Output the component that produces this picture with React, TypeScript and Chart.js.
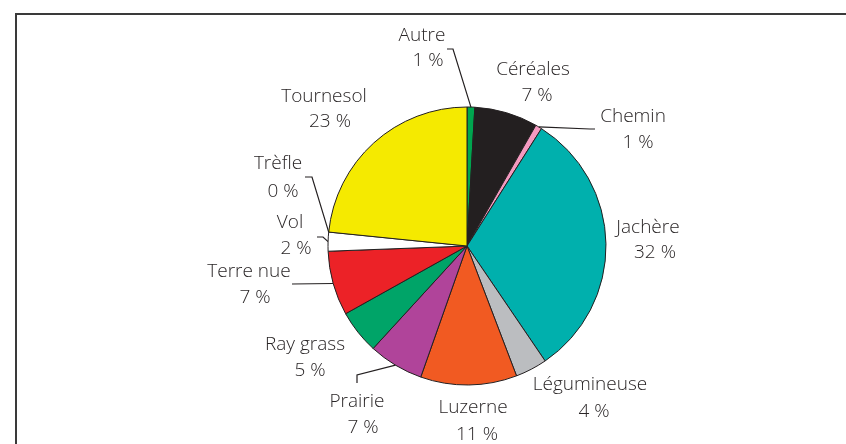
import React, { useEffect, useRef } from 'react';
import { Chart, registerables } from 'chart.js';

Chart.register(...registerables);

const categories = ['Autre', 'Céréales', 'Chemin', 'Jachère', 'Légumineuse', 'Luzerne', 'Prairie', 'Ray grass', 'Terre nue', 'Vol', 'Trèfle', 'Tournesol'];
const values = [0.9, 7.35, 0.75, 31.5, 3.7, 11.2, 6.4, 5.1, 7.5, 2.2, 0, 23.4];
const percentLabels = ['1 %', '7 %', '1 %', '32 %', '4 %', '11 %', '7 %', '5 %', '7 %', '2 %', '0 %', '23 %'];
const colors = ['#00a54f', '#231f20', '#f49ac0', '#00b0ad', '#bbbdc0', '#f15a22', '#b0449a', '#00a468', '#ec2227', '#ffffff', '#ffffff', '#f5ea00'];

// label layout: centre of name line, centre of percentage line, leader elbow points (null = no leader)
const labelLayout: { name: [number, number]; pct: [number, number]; leader: [number, number][] | null }[] = [
  { name: [422, 36], pct: [428, 61], leader: [[447, 49], [453, 49]] },
  { name: [533, 70], pct: [537, 96], leader: null },
  { name: [633, 117], pct: [638, 143], leader: [[595, 129], [590, 129]] },
  { name: [648, 228], pct: [655, 253], leader: null },
  { name: [590, 385], pct: [594, 412], leader: null },
  { name: [473, 408], pct: [477, 435], leader: null },
  { name: [357, 402], pct: [363, 428], leader: [[357, 383], [357, 375]] },
  { name: [305, 345], pct: [310, 371], leader: null },
  { name: [249, 272], pct: [255, 298], leader: [[292, 284]] },
  { name: [290, 223], pct: [296, 249], leader: [[317, 237], [323, 237]] },
  { name: [278, 164], pct: [283, 192], leader: [[305, 177], [312, 177]] },
  { name: [324, 97], pct: [330, 122], leader: null },
];

const labelPlugin = {
  id: 'outerLabels',
  afterDraw(chart: any) {
    const ctx = chart.ctx as CanvasRenderingContext2D;
    ctx.save();
    // frame
    ctx.fillStyle = '#3a3a3a';
    ctx.fillRect(15, 13, 846 - 15, 2);
    ctx.fillRect(15, 13, 2, 444 - 13);

    const meta = chart.getDatasetMeta(0);
    ctx.strokeStyle = '#231f20';
    ctx.lineWidth = 1.2;
    labelLayout.forEach((lay, i) => {
      if (!lay.leader) return;
      const arc = meta.data[i] as any;
      const mid = (arc.startAngle + arc.endAngle) / 2;
      const r = arc.outerRadius;
      const ex = arc.x + r * Math.cos(mid);
      const ey = arc.y + r * Math.sin(mid);
      ctx.beginPath();
      ctx.moveTo(lay.leader[0][0], lay.leader[0][1]);
      for (let k = 1; k < lay.leader.length; k++) ctx.lineTo(lay.leader[k][0], lay.leader[k][1]);
      ctx.lineTo(ex, ey);
      ctx.stroke();
    });

    ctx.fillStyle = '#2a2627';
    ctx.font = '300 19px "Open Sans", Lato, sans-serif';
    ctx.textAlign = 'center';
    ctx.textBaseline = 'middle';
    labelLayout.forEach((lay, i) => {
      ctx.fillText(categories[i], lay.name[0], lay.name[1]);
      ctx.fillText(percentLabels[i], lay.pct[0], lay.pct[1]);
    });
    ctx.restore();
  },
};

export default function App() {
  const ref = useRef<HTMLCanvasElement | null>(null);
  useEffect(() => {
    if (!ref.current) return;
    const chart = new Chart(ref.current, {
      type: 'pie',
      data: {
        labels: categories,
        datasets: [
          {
            data: values,
            backgroundColor: colors,
            borderColor: '#231f20',
            borderWidth: 1,
          },
        ],
      },
      options: {
        responsive: false,
        animation: false,
        radius: 139,
        layout: { padding: { left: 150, right: 62, top: 60, bottom: 12 } },
        plugins: {
          legend: { display: false },
          tooltip: { enabled: false },
        },
      } as any,
      plugins: [labelPlugin],
    });
    return () => chart.destroy();
  }, []);
  return (
    <div style={{ position: 'absolute', left: 0, top: 0, width: 846, height: 444, background: '#fff' }}>
      <canvas ref={ref} width={846} height={444} />
    </div>
  );
}
